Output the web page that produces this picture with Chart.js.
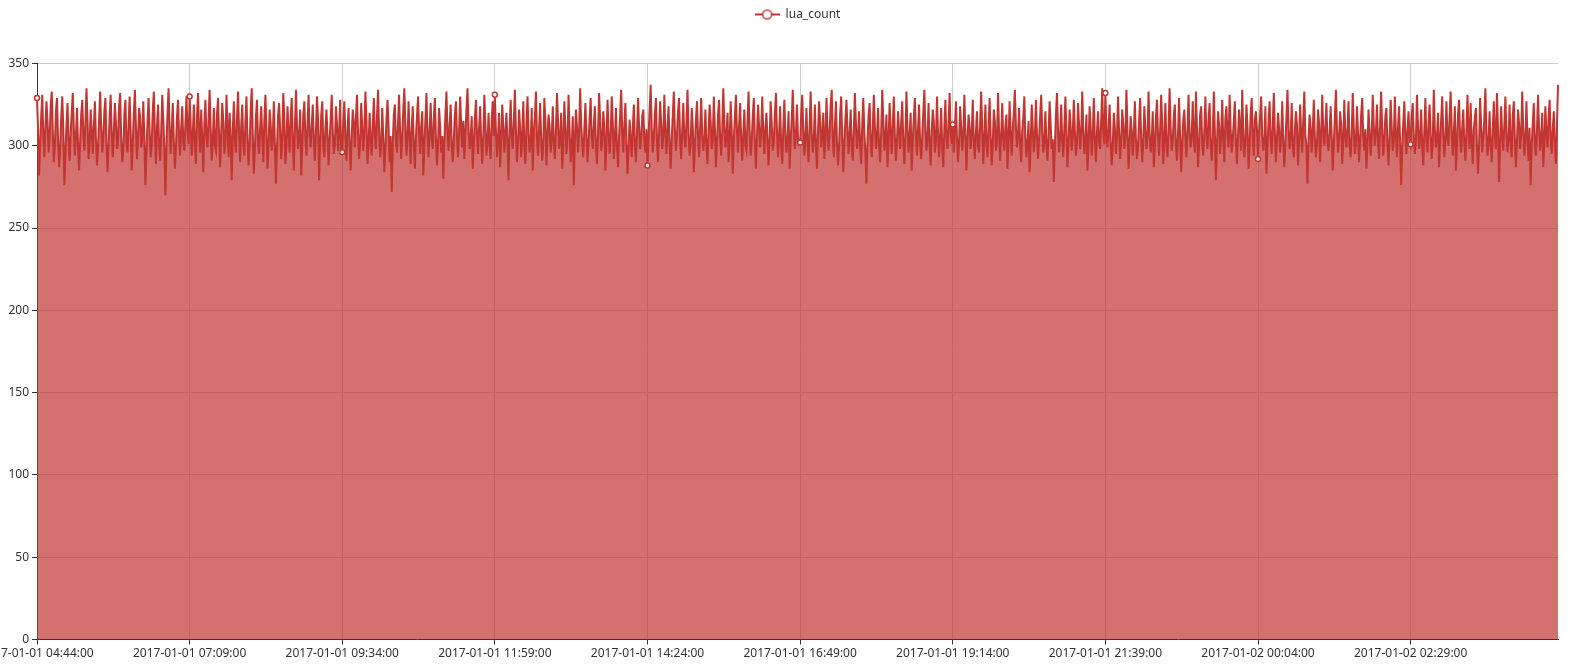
<!DOCTYPE html>
<html>
<head>
<meta charset="utf-8">
<script src="https://cdn.jsdelivr.net/npm/chart.js@4/dist/chart.umd.min.js"></script>
<style>
  html, body { margin: 0; padding: 0; background: #fff; }
  #wrap { width: 1581px; height: 664px; }
</style>
</head>
<body>
<div id="wrap"><canvas id="mycanvas"></canvas></div>
<script>
// series: one value per minute, starting 2017-01-01 04:44:00
var seriesName = 'lua_count';
var startDay = 1;
var startMinute = 4 * 60 + 44;
var labelStep = 145;

var luaCount = [
  // 04:44 - 07:08
  329,310,282,301,318,331,306,293,312,327,315,296,305,324,333,309,290,300,321,329,304,287,298,317,330,311,276,295,313,
  326,302,291,308,320,332,310,294,306,323,300,285,303,319,328,307,297,314,335,316,292,301,322,309,295,311,327,304,288,
  299,316,333,312,296,305,321,329,302,284,300,318,331,307,293,309,326,314,298,303,324,332,305,290,297,319,328,301,296,
  313,330,308,285,302,320,334,311,292,306,323,317,299,304,327,305,276,296,315,329,310,293,301,322,333,307,289,312,325,
  300,291,309,331,316,298,270,301,320,335,312,295,308,326,303,286,299,318,328,306,294,311,324,302,297,314,330,309,301,
  // 07:09 - 09:33
  330,312,294,306,325,301,289,318,332,309,296,322,304,284,313,328,305,299,316,334,310,291,303,323,300,297,319,329,306,
  287,308,326,315,295,302,331,311,293,320,305,279,309,327,303,296,317,333,308,290,312,325,300,294,315,330,304,288,301,
  321,335,307,283,298,318,328,302,295,311,324,306,290,316,331,309,286,300,322,313,297,305,327,301,277,299,318,326,310,
  292,304,332,315,289,301,324,308,296,317,329,303,285,310,334,312,298,306,322,282,300,319,327,305,294,313,331,307,299,
  312,325,303,291,309,330,316,279,302,318,327,300,293,311,322,306,288,304,316,331,309,295,301,324,313,297,308,328,296,
  // 09:34 - 11:58
  296,315,327,305,291,310,323,300,285,306,322,314,299,317,331,308,292,303,326,311,297,309,333,316,289,300,320,304,294,
  312,329,306,298,318,334,309,293,302,323,305,284,299,316,328,311,290,306,272,301,319,325,303,296,314,331,308,292,307,
  322,335,313,294,304,327,306,289,311,324,301,286,305,318,330,309,295,312,321,282,300,316,332,307,293,310,326,304,298,
  317,329,305,288,301,323,311,296,306,280,302,319,333,308,297,313,325,301,290,304,319,327,306,293,309,330,312,299,315,
  292,308,322,335,310,298,305,318,286,301,316,328,307,295,311,324,303,289,306,331,313,294,302,320,300,292,317,327,306,
  // 11:59 - 14:23
  331,309,293,305,320,287,303,325,312,296,308,320,301,279,311,328,306,298,315,334,309,290,303,322,311,293,306,327,300,
  289,314,330,308,296,302,323,285,309,317,333,305,294,310,326,304,291,302,329,316,288,306,319,312,296,304,324,301,292,
  310,332,315,298,303,320,286,301,327,311,295,305,331,309,290,299,318,276,304,322,312,296,308,335,313,301,293,310,326,
  307,290,302,317,329,306,298,312,324,300,289,308,332,316,297,303,321,311,285,302,328,309,295,306,330,314,292,304,323,
  300,287,306,319,334,308,296,313,326,301,283,299,316,305,293,310,325,302,290,307,329,312,298,305,318,322,303,296,310,
  // 14:24 - 16:48
  288,306,322,337,311,296,305,319,329,303,290,309,327,314,298,306,331,308,295,312,324,301,286,304,318,333,310,297,307,
  321,329,303,292,310,326,305,299,314,334,308,294,301,323,312,284,300,316,327,306,293,311,329,307,297,304,322,300,289,
  308,325,315,298,303,330,311,287,302,319,328,305,294,309,335,313,299,306,320,290,301,327,310,283,304,317,331,309,296,
  312,326,304,291,307,322,300,297,315,333,310,294,303,318,329,302,286,306,325,312,299,309,330,308,295,311,320,303,288,
  305,327,314,297,302,319,332,309,293,306,324,300,289,311,328,307,296,304,321,286,303,316,334,312,298,307,325,304,301,
  // 16:49 - 19:13
  302,319,331,310,294,305,323,301,290,312,333,308,296,304,325,300,286,309,327,315,299,306,320,292,303,329,311,297,308,
  324,334,306,293,311,327,302,288,300,319,330,305,284,302,316,328,310,295,307,322,301,291,309,332,314,298,305,321,300,
  289,313,329,308,296,277,304,318,326,303,293,310,331,312,298,305,323,300,290,308,334,316,297,304,319,287,302,326,309,
  295,312,330,306,291,303,321,309,298,314,327,302,289,307,333,311,296,305,320,285,303,317,329,308,294,310,325,301,292,
  306,320,334,311,297,304,326,300,288,309,322,315,296,303,330,308,293,306,323,299,287,311,328,305,298,313,332,307,301,
  // 19:14 - 21:38
  313,296,309,327,305,290,302,324,311,297,306,331,309,285,304,319,312,298,307,328,303,292,308,321,300,296,314,333,310,
  289,305,325,302,293,311,329,306,288,301,322,315,297,303,332,309,291,306,326,304,297,312,319,286,303,327,308,294,310,
  320,334,312,299,306,323,301,290,309,317,330,305,293,302,315,284,300,325,311,296,305,328,307,292,304,318,331,309,296,
  303,321,300,291,307,327,313,298,304,278,300,319,332,310,296,305,325,303,293,311,330,308,287,302,322,312,297,306,328,
  309,294,301,326,313,298,307,333,310,295,303,319,285,300,324,311,294,306,329,304,290,308,321,302,298,315,335,309,301,
  // 21:39 - 00:03
  332,308,299,311,325,303,288,300,320,311,295,306,330,309,292,303,322,313,298,305,334,310,286,301,318,309,294,307,327,
  304,292,300,315,329,305,290,303,324,310,298,306,333,308,296,302,321,287,300,317,328,306,294,309,331,313,289,304,326,
  301,293,310,335,311,297,303,318,325,300,291,307,329,306,284,302,316,322,305,293,310,331,308,299,306,327,303,296,333,
  312,287,300,319,324,301,294,309,330,306,298,316,326,302,291,305,333,309,279,301,321,313,295,306,328,304,290,317,324,
  307,299,331,310,296,304,315,327,303,289,306,322,311,297,334,308,293,302,325,312,286,300,319,329,305,294,316,321,310,
  // 00:04 - 02:28
  292,309,318,330,306,297,303,324,283,300,315,327,305,295,312,332,308,290,304,320,311,296,306,327,303,287,302,317,334,
  310,298,305,326,300,293,309,321,313,288,302,325,307,296,316,333,306,300,277,303,319,311,296,308,328,305,293,301,322,
  314,290,306,331,309,300,312,326,302,297,308,324,306,285,301,317,334,310,296,305,321,313,289,303,328,306,299,311,327,
  300,293,307,332,311,295,302,324,308,290,304,319,329,305,297,310,286,301,322,309,294,305,331,312,300,308,325,303,292,
  314,333,309,294,305,318,323,300,288,306,328,312,297,303,330,308,293,311,324,302,276,299,314,327,306,295,310,321,304,
  // 02:29 - 04:49
  301,318,326,306,295,303,331,312,298,306,322,300,288,309,329,304,296,313,325,307,292,302,334,310,299,305,320,287,303,
  316,330,308,293,304,327,305,300,318,333,311,294,306,324,285,301,319,328,306,296,311,322,302,291,308,331,309,298,326,
  304,289,310,317,323,301,283,300,329,312,296,305,316,335,308,294,303,321,300,290,309,327,306,298,332,311,278,301,324,
  306,297,312,330,309,296,304,325,301,293,318,327,305,287,302,322,314,298,307,333,310,294,303,327,305,291,311,276,300,
  313,326,303,294,309,331,311,297,305,320,287,302,324,308,299,316,328,305,295,310,321,300,289,312,337
];

var yTicks = [0, 50, 100, 150, 200, 250, 300, 350];

// time categories
function pad(n) { return (n < 10 ? '0' : '') + n; }
var timeLabels = [];
for (var i = 0; i < luaCount.length; i++) {
  var m = startMinute + i;
  var day = startDay + Math.floor(m / 1440);
  var mm = m % 1440;
  timeLabels.push('2017-01-' + pad(day) + ' ' + pad(Math.floor(mm / 60)) + ':' + pad(mm % 60) + ':00');
}

var lineColor = '#c23531';
var fontFamily = '"Noto Sans", "DejaVu Sans", sans-serif';

// legend icon: short line with a hollow circle
var icon = document.createElement('canvas');
icon.width = 25; icon.height = 14;
var ic = icon.getContext('2d');
ic.strokeStyle = lineColor;
ic.lineWidth = 2;
ic.beginPath(); ic.moveTo(0, 7); ic.lineTo(25, 7); ic.stroke();
ic.beginPath(); ic.arc(12.5, 7, 4.5, 0, Math.PI * 2);
ic.fillStyle = '#fff'; ic.fill();
ic.lineWidth = 1.5; ic.stroke();

Chart.defaults.font.family = fontFamily;
Chart.defaults.font.size = 12;
Chart.defaults.color = '#333';

var ctx = document.getElementById('mycanvas');
var chart = new Chart(ctx, {
  type: 'line',
  data: {
    labels: timeLabels,
    datasets: [{
      label: seriesName,
      data: luaCount,
      borderColor: lineColor,
      borderWidth: 2,
      backgroundColor: 'rgba(194, 53, 49, 0.7)',
      fill: 'origin',
      tension: 0,
      pointRadius: function(c) { return c.dataIndex % labelStep === 0 ? 2.5 : 0; },
      pointBackgroundColor: '#fff',
      pointBorderColor: lineColor,
      pointBorderWidth: 1.5
    }]
  },
  options: {
    responsive: true,
    maintainAspectRatio: false,
    animation: false,
    events: [],
    layout: { padding: { left: 0, right: 23, top: 0, bottom: 0 } },
    plugins: {
      legend: {
        position: 'top',
        fullSize: false,
        labels: {
          usePointStyle: true,
          pointStyle: icon,
          pointStyleWidth: 25,
          boxHeight: 12,
          padding: 8.5,
          color: '#333',
          font: { size: 12 }
        }
      },
      title: {
        display: true,
        text: '',
        fullSize: false,
        weight: 500,
        font: { size: 12, lineHeight: 1 },
        padding: { top: 0, bottom: 21 }
      },
      tooltip: { enabled: false }
    },
    scales: {
      x: {
        type: 'category',
        offset: false,
        grid: { color: '#ccc', tickColor: '#333', tickLength: 5 },
        border: { color: '#333', width: 1 },
        ticks: {
          autoSkip: false,
          maxRotation: 0,
          minRotation: 0,
          padding: 2,
          color: '#333',
          callback: function(value, index) {
            return index % labelStep === 0 ? this.getLabelForValue(value) : null;
          }
        },
        afterFit: function(scale) {
          scale.height = 24.5;
          scale.paddingLeft = 0;
          scale.paddingRight = 0;
        }
      },
      y: {
        min: 0,
        max: 350,
        afterBuildTicks: function(scale) {
          scale.ticks = yTicks.map(function(v) { return { value: v }; });
        },
        grid: { color: '#ccc', tickColor: '#333', tickLength: 5 },
        border: { color: '#333', width: 1 },
        ticks: { padding: 3, color: '#333' },
        afterFit: function(scale) {
          scale.width = 37;
        }
      }
    }
  }
});
</script>
</body>
</html>
